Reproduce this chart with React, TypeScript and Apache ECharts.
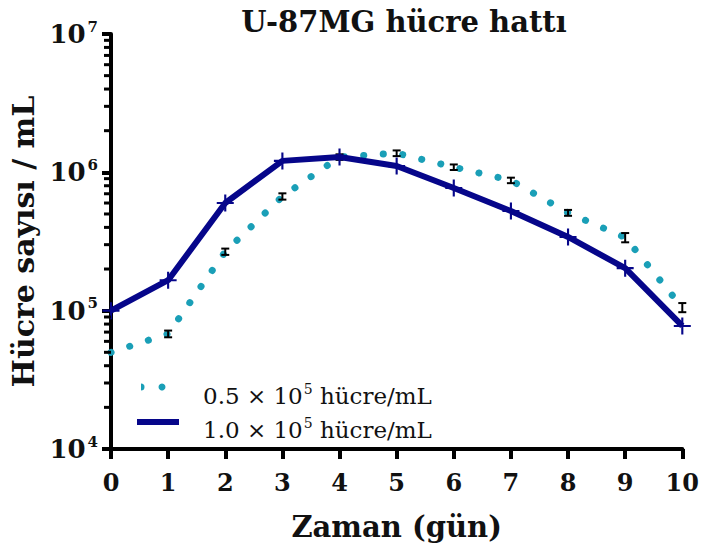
import React, { useEffect, useRef } from "react";
import * as echarts from "echarts";

const days = [0, 1, 2, 3, 4, 5, 6, 7, 8, 9, 10];
const mean05 = [50000, 68000, 267000, 670000, 1290000, 1375000, 1090000, 875000, 510000, 338000, 105500];
const err05 = [0, 3800, 14000, 35000, 60000, 65000, 50000, 40000, 25000, 26000, 8000];
const mean10 = [100000, 166000, 600000, 1210000, 1290000, 1110000, 770000, 525000, 341000, 203000, 77500];
const minorTickValues = [
  2e4, 3e4, 4e4, 5e4, 6e4, 7e4, 8e4, 9e4,
  2e5, 3e5, 4e5, 5e5, 6e5, 7e5, 8e5, 9e5,
  2e6, 3e6, 4e6, 5e6, 6e6, 7e6, 8e6, 9e6,
];
const titleText = "U-87MG hücre hattı";
const xName = "Zaman (gün)";
const yName = "Hücre sayısı / mL";
const legendLabels = ["0.5", "1.0"];

const TEAL = "#1a9fb7";
const NAVY = "#06068a";
const FONT = "DejaVu Serif";

export default function App() {
  const ref = useRef<HTMLDivElement>(null);
  useEffect(() => {
    if (!ref.current) return;
    const chart = echarts.init(ref.current, null, { renderer: "svg" });
    const gridLeft = 111, gridRight = 16, gridTop = 34, gridBottom = 103;
    const option: any = {
      animation: false,
      backgroundColor: "#fff",
      title: {
        text: titleText,
        left: 399,
        top: 2,
        textAlign: "center",
        textStyle: { fontFamily: FONT, fontWeight: "bold", fontSize: 29, color: "#111" },
      },
      grid: { left: gridLeft, right: gridRight, top: gridTop, bottom: gridBottom, containLabel: false },
      xAxis: {
        type: "value",
        min: 0,
        max: 10,
        interval: 1,
        name: xName,
        nameLocation: "middle",
        nameGap: 63,
        nameTextStyle: { fontFamily: FONT, fontWeight: "bold", fontSize: 29, color: "#111", verticalAlign: "top" },
        axisLine: { lineStyle: { color: "#000", width: 4 } },
        axisTick: { show: true, inside: false, length: 10, lineStyle: { color: "#000", width: 4 } },
        axisLabel: { fontFamily: FONT, fontWeight: "bold", fontSize: 24, color: "#111", margin: 21 },
        splitLine: { show: false },
      },
      yAxis: {
        type: "log",
        logBase: 10,
        min: 1e4,
        max: 1e7,
        interval: 1,
        name: yName,
        nameLocation: "middle",
        nameGap: 70,
        nameTextStyle: { fontFamily: FONT, fontWeight: "bold", fontSize: 30, color: "#111" },
        axisLine: { show: true, lineStyle: { color: "#000", width: 4 } },
        axisTick: { show: true, inside: false, length: 9, lineStyle: { color: "#000", width: 4 } },
        axisLabel: {
          margin: 13,
          formatter: (v: number) => "{b|10}{s|" + Math.round(Math.log10(v)) + "}",
          rich: {
            b: { fontFamily: FONT, fontWeight: "bold", fontSize: 26, color: "#111" },
            s: { fontFamily: FONT, fontWeight: "bold", fontSize: 15, color: "#111", padding: [0, 0, 15, 2] },
          },
        },
        splitLine: { show: false },
        minorTick: { show: false },
      },
      series: [
        {
          name: "0.5",
          type: "line",
          data: days.map((d, i) => [d, mean05[i]]),
          showSymbol: false,
          symbol: "none",
          lineStyle: { color: TEAL, width: 7, type: [0.1, 19.5], cap: "round" },
          z: 2,
        },
        {
          name: "err",
          type: "custom",
          data: days.map((d, i) => [d, mean05[i] - err05[i], mean05[i] + err05[i]]),
          encode: { x: 0, y: [1, 2] },
          clip: false,
          z: 3,
          renderItem: (params: any, api: any) => {
            const x = api.value(0);
            const lo = api.value(1);
            const hi = api.value(2);
            if (hi - lo <= 0) return null;
            const pLo = api.coord([x, lo]);
            const pHi = api.coord([x, hi]);
            const w = 4;
            const style = { stroke: "#000", lineWidth: 2 };
            return {
              type: "group",
              children: [
                { type: "line", shape: { x1: pLo[0], y1: pLo[1], x2: pHi[0], y2: pHi[1] }, style },
                { type: "line", shape: { x1: pLo[0] - w, y1: pLo[1], x2: pLo[0] + w, y2: pLo[1] }, style },
                { type: "line", shape: { x1: pHi[0] - w, y1: pHi[1], x2: pHi[0] + w, y2: pHi[1] }, style },
              ],
            };
          },
        },
        {
          name: "1.0",
          type: "line",
          data: days.map((d, i) => [d, mean10[i]]),
          symbol: "path://M-1,-8 H1 V-1 H8 V1 H1 V8 H-1 V1 H-8 V-1 H-1 Z",
          symbolSize: 17,
          showSymbol: true,
          itemStyle: { color: NAVY },
          lineStyle: { color: NAVY, width: 6, cap: "butt", join: "round" },
          z: 4,
        },
        {
          name: "minorTicks",
          type: "custom",
          data: minorTickValues.map((v) => [0, v]),
          encode: { x: 0, y: 1 },
          clip: false,
          z: 5,
          renderItem: (params: any, api: any) => {
            const p = api.coord([0, api.value(1)]);
            return {
              type: "line",
              shape: { x1: p[0] - 7, y1: p[1], x2: p[0], y2: p[1] },
              style: { stroke: "#000", lineWidth: 3 },
            };
          },
        },
      ],
      graphic: [
        { type: "sector", shape: { cx: 141, cy: 387, r: 3.5, r0: 0, startAngle: -Math.PI / 2, endAngle: Math.PI / 2 }, style: { fill: TEAL } },
        { type: "circle", shape: { cx: 162, cy: 387, r: 3.5 }, style: { fill: TEAL } },
        { type: "rect", shape: { x: 137, y: 419, width: 42, height: 6 }, style: { fill: NAVY } },
        {
          type: "text",
          x: 203,
          y: 396,
          style: {
            text: "{n|" + legendLabels[0] + " × 10}{s|5}{n| hücre/mL}",
            verticalAlign: "middle",
            rich: {
              n: { fontFamily: FONT, fontSize: 23, fill: "#111" },
              s: { fontFamily: FONT, fontSize: 14, fill: "#111", padding: [0, 0, 15, 1] },
            },
          },
        },
        {
          type: "text",
          x: 203,
          y: 430,
          style: {
            text: "{n|" + legendLabels[1] + " × 10}{s|5}{n| hücre/mL}",
            verticalAlign: "middle",
            rich: {
              n: { fontFamily: FONT, fontSize: 23, fill: "#111" },
              s: { fontFamily: FONT, fontSize: 14, fill: "#111", padding: [0, 0, 15, 1] },
            },
          },
        },
      ],
    };
    chart.setOption(option);
    return () => chart.dispose();
  }, []);
  return <div ref={ref} style={{ position: "absolute", left: 0, top: 0, width: 702, height: 552 }} />;
}
